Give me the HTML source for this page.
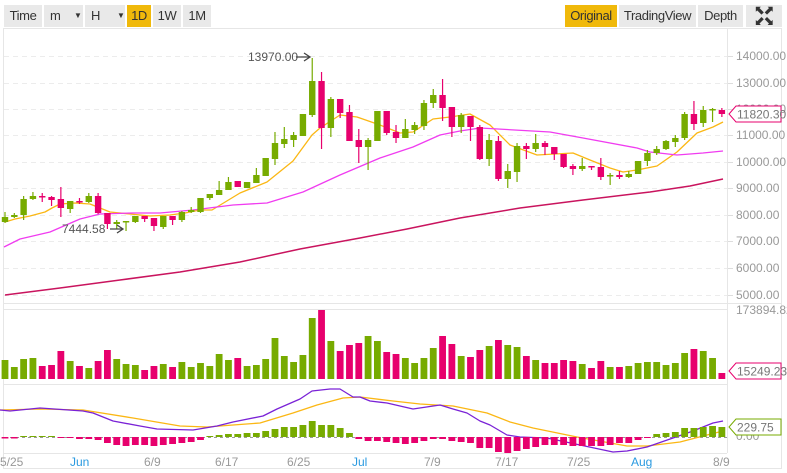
<!DOCTYPE html>
<html><head><meta charset="utf-8"><style>
html,body{margin:0;padding:0;background:#fff;}
body{width:787px;height:473px;overflow:hidden;position:relative;font-family:"Liberation Sans",sans-serif;}
.btn{position:absolute;top:5px;height:22px;line-height:22px;background:#e9e9e9;color:#333;font-size:13px;text-align:center;letter-spacing:-0.4px;}
.y{background:#f0b90b;}
svg{position:absolute;left:0;top:0;}
</style></head><body>
<div class="btn" style="left:4px;width:38px;">Time</div>
<div class="btn" style="left:44px;width:39px;text-align:left;padding-left:0;"><span style="margin-left:6px">m</span><span style="position:absolute;left:30px;font-size:8px">▼</span></div>
<div class="btn" style="left:85px;width:40px;text-align:left;"><span style="margin-left:6px">H</span><span style="position:absolute;left:32px;font-size:8px">▼</span></div>
<div class="btn y" style="left:127px;width:24px;">1D</div>
<div class="btn" style="left:153px;width:28px;">1W</div>
<div class="btn" style="left:183px;width:28px;">1M</div>
<div class="btn y" style="left:565px;width:52px;">Original</div>
<div class="btn" style="left:619px;width:77px;">TradingView</div>
<div class="btn" style="left:698px;width:45px;">Depth</div>
<div class="btn" style="left:746px;width:36px;font-size:12px;font-weight:bold;line-height:11px;"><div style="padding-top:0px">⬉⬈<br>⬋⬊</div></div>
<svg id="s" width="787" height="473" xmlns="http://www.w3.org/2000/svg" font-family="Liberation Sans, sans-serif">
<rect x="3.5" y="28.5" width="778" height="440" fill="none" stroke="#e6e6e6"/>
<line x1="727.5" y1="29" x2="727.5" y2="453" stroke="#e6e6e6"/>
<line x1="4" y1="303.5" x2="781" y2="303.5" stroke="#e6e6e6"/>
<line x1="4" y1="309.5" x2="727" y2="309.5" stroke="#e6e6e6"/>
<line x1="4" y1="384.5" x2="727" y2="384.5" stroke="#e6e6e6"/>
<line x1="4" y1="453.5" x2="727" y2="453.5" stroke="#e6e6e6"/>
<g id="grid"></g>
<g id="ma"></g>
<g id="c"></g>
<g font-size="12" fill="#999">
<text x="736" y="60">14000.00</text><text x="736" y="87">13000.00</text><text x="736" y="113">12000.00</text>
<text x="736" y="139">11000.00</text><text x="736" y="166">10000.00</text><text x="736" y="192">9000.00</text>
<text x="736" y="219">8000.00</text><text x="736" y="245">7000.00</text><text x="736" y="272">6000.00</text>
<text x="736" y="299">5000.00</text><text x="736" y="314">173894.82</text><text x="736" y="440">0.00</text>
</g>
<path d="M729,114 L736,106 H781 V122 H736 Z" fill="#fff" stroke="#e7006d"/>
<text x="737" y="118.5" font-size="12" fill="#777">11820.30</text>
<path d="M729,371 L736,363 H781 V379 H736 Z" fill="#fff" stroke="#e7006d"/>
<text x="737" y="375.5" font-size="12" fill="#777">15249.23</text>
<path d="M729,427 L736,419 H781 V435 H736 Z" fill="#fff" stroke="#77ab00"/>
<text x="737" y="431.5" font-size="12" fill="#777">229.75</text>
<g font-size="12" fill="#555">
<text x="248" y="61">13970.00</text><text x="62" y="233">7444.58</text>
</g>
<g stroke="#444" stroke-width="1.3" fill="none">
<path d="M296,57 H310 M304,53 L310,57 L304,61"/><path d="M110,229 H123 M117,225 L123,229 L117,233"/>
</g>
<g font-size="12" fill="#999">
<text x="0" y="466">5/25</text><text x="70" y="466" fill="#2a9ae0">Jun</text>
<text x="144" y="466">6/9</text><text x="215" y="466">6/17</text><text x="287" y="466">6/25</text>
<text x="352" y="466" fill="#2a9ae0">Jul</text><text x="424" y="466">7/9</text><text x="495" y="466">7/17</text>
<text x="567" y="466">7/25</text><text x="631" y="466" fill="#2a9ae0">Aug</text><text x="713" y="466">8/9</text>
</g>
</svg>
<script>
var NS="http://www.w3.org/2000/svg";
function el(p,t,a){var e=document.createElementNS(NS,t);for(var k in a)e.setAttribute(k,a[k]);document.getElementById(p).appendChild(e);return e;}
var G="#77ab00",R="#e7006d";
[56,83,109,135,162,188,215,241,268,295].forEach(function(y){el("grid","line",{x1:4,x2:727,y1:y+.5,y2:y+.5,stroke:"#ececec","stroke-dasharray":"5,4"});el("grid","line",{x1:728,x2:733,y1:y+.5,y2:y+.5,stroke:"#ddd"});});
el("grid","line",{x1:4,x2:727,y1:437.5,y2:437.5,stroke:"#999","stroke-dasharray":"3,3"});
var C="G 217 222 212 223|G 215 217 213 218|G 199 215 196 220|G 196 199 192 200|R 196 197 193 202|R 197 200 196 206|R 199 208 187 217|G 201 209 201 213|R 201 202 198 204|G 196 202 193 203|R 196 213 193 214|R 213 224 213 229|G 222 224 220 229|G 221 222 221 231|G 216 222 216 223|R 216 219 216 222|R 218 226 218 231|G 216 227 216 229|R 216 220 216 225|G 212 220 211 222|G 210 212 207 213|G 198 212 198 213|G 194 198 194 200|G 190 195 181 195|G 182 190 177 190|R 181 187 181 187|G 182 188 182 188|G 175 183 168 183|G 158 176 158 176|G 143 159 132 165|G 139 144 127 148|G 135 140 132 147|G 114 136 114 136|G 81 115 58 117|R 81 128 72 149|G 99 128 97 137|R 99 113 99 118|R 112 141 105 141|R 140 147 129 163|G 140 147 138 170|G 111 141 111 141|R 111 133 111 135|R 132 138 125 143|G 129 138 119 138|G 125 130 122 134|G 103 126 100 130|G 95 103 89 108|R 95 108 79 121|R 107 127 107 137|G 115 127 113 133|R 116 127 116 141|R 127 159 125 160|G 140 159 134 166|R 141 179 136 181|G 171 179 164 188|G 146 172 143 182|R 146 149 143 159|G 143 149 134 152|R 143 147 141 155|R 147 154 147 160|R 154 167 154 168|R 166 169 164 175|G 166 169 158 171|R 166 167 166 170|R 167 177 158 180|G 175 176 173 185|R 175 177 171 179|G 174 177 171 178|G 161 174 161 174|G 153 161 150 166|G 149 153 146 155|G 141 149 140 150|G 138 142 135 147|G 114 138 112 140|R 114 124 101 130|G 110 123 106 127|G 109 110 108 122|R 110 114 108 117".split("|");
var V=[360,367,359,358,366,365,351,361,366,368,361,350,359,364,365,370,366,364,367,362,367,363,366,354,360,358,366,365,359,338,356,362,355,318,310,341,351,345,343,336,341,352,354,358,363,358,348,336,344,356,357,350,346,340,345,347,356,360,363,363,360,361,364,368,361,367,367,366,363,362,362,365,363,353,349,351,358,373];
var H=[438.5,438.5,436,436,436,436,438,438,439,439,440,443,445,446,445,445,446,445,444,443,442,440,436,435,434,434,433,433,431,429,427,427,425,421,425,425,428,433,439,441,441,442,443,444,443,441,439,439,441,442,443,448,448,452,453,451,449,447,445,445,445,446,446,446,446,445,443,443,440,438,434,433,432,428,428,427,426,427];
C.forEach(function(s,i){var p=s.split(" "),col=p[0]=="G"?G:R,x=5+9.31*i;
var bt=+p[1],bb=+p[2];if(bb-bt<1.5){bb=bt+1.5;}
el("c","line",{x1:x,x2:x,y1:+p[3],y2:+p[4],stroke:col,"stroke-width":1.2});
el("c","rect",{x:x-3.2,y:bt,width:6.4,height:bb-bt,fill:col});
el("c","rect",{x:x-3.4,y:V[i],width:6.8,height:379-V[i],fill:col});
var h=H[i],hc=h<437?G:R;el("c","rect",{x:x-3.4,y:Math.min(h,437),width:6.8,height:Math.max(1,Math.abs(h-437)),fill:hc});
});
function pl(pts,col,w){el("ma","polyline",{points:pts,fill:"none",stroke:col,"stroke-width":w||1.3,"stroke-linejoin":"round"});}
pl("5,222 15,219 30,216 45,212 52,208 60,204 75,203 90,204 100,208 110,212 130,214 150,216 170,215 185,213 200,210 212,210 240,193 267,182 293,161 312,135 320,128 340,115 357,117 380,125 400,133 413,132 433,119 450,117 470,114 490,125 510,145 537,155 573,153 590,160 610,168 623,172 637,170 657,166 677,152 697,133 713,127 723,122","#fbb714");
pl("4,247 20,239 50,232 80,219 100,214 133,213 160,213 193,210 233,205 267,203 303,192 340,175 380,158 413,147 440,135 460,131 480,128 550,132 583,138 637,148 650,152 677,155 703,153 723,151","#f03cf0");
pl("5,295 60,288 120,280 180,272 240,262 300,249 360,238 407,229 460,218 520,208 583,200 650,192 690,186 723,179","#c9145e",1.5);
pl("0,410 40,409 83,410 133,418 180,426 207,427 233,425 260,423 293,413 317,405 343,398 360,397 393,401 420,404 453,406 487,413 510,422 533,428 577,437 627,446 647,446 680,442 707,435 723,431","#fbb714");
pl("0,410 10,411 40,408 83,411 93,413 113,421 140,426 157,429 193,430 217,426 233,422 263,416 277,409 300,399 312,391 330,389 340,389 353,397 360,397 370,401 387,403 413,409 440,405 453,409 467,413 480,421 490,425 507,435 520,437 547,438 580,445 613,452 627,451 647,447 673,438 693,431 713,423 723,421","#7a22d6");
</script>
</body></html>
